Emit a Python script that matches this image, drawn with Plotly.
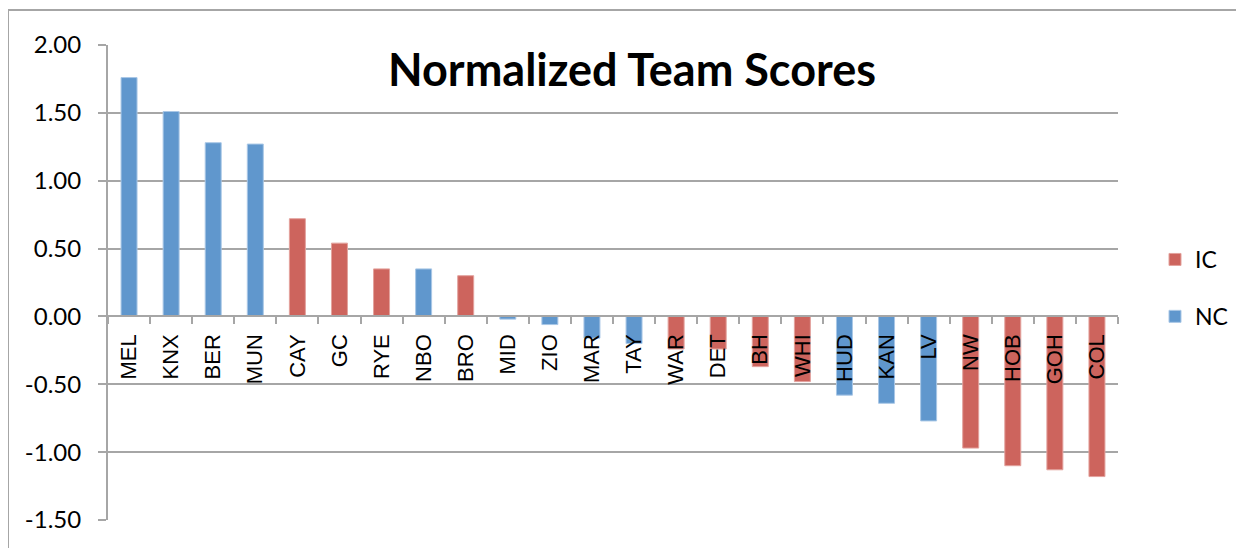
import plotly.graph_objects as go

teams = ["MEL", "KNX", "BER", "MUN", "CAY", "GC", "RYE", "NBO", "BRO", "MID", "ZIO", "MAR",
         "TAY", "WAR", "DET", "BH", "WHI", "HUD", "KAN", "LV", "NW", "HOB", "GOH", "COL"]
scores = [1.76, 1.51, 1.28, 1.27, 0.72, 0.54, 0.35, 0.35, 0.30, -0.02, -0.06, -0.16,
          -0.20, -0.24, -0.24, -0.37, -0.48, -0.58, -0.64, -0.77, -0.97, -1.10, -1.13, -1.18]
conference = ["NC", "NC", "NC", "NC", "IC", "IC", "IC", "NC", "IC", "NC", "NC", "NC",
              "NC", "IC", "IC", "IC", "IC", "NC", "NC", "NC", "IC", "IC", "IC", "IC"]
y_ticks = [2.0, 1.5, 1.0, 0.5, 0.0, -0.5, -1.0, -1.5]
y_tick_labels = ["2.00", "1.50", "1.00", "0.50", "0.00", "-0.50", "-1.00", "-1.50"]

ic_vals = [s if c == "IC" else None for s, c in zip(scores, conference)]
nc_vals = [s if c == "NC" else None for s, c in zip(scores, conference)]

RED = "#CD645D"
BLUE = "#6097CD"
GRID = "#A6A6A6"

fig = go.Figure()
fig.add_trace(go.Bar(x=teams, y=ic_vals, name="IC", legendgroup="IC",
                     marker=dict(color=RED, line=dict(color="#E3A29D", width=1)), width=0.38))
fig.add_trace(go.Bar(x=teams, y=nc_vals, name="NC", legendgroup="NC",
                     marker=dict(color=BLUE, line=dict(color="#A9C7E6", width=1)), width=0.38))

ymin, ymax = -1.5, 2.0
OFF = 8  # browser body margin
W, H = 1244, 548
L, T = 108 - OFF, 45 - OFF
R = W - (1118 - OFF)
B = H - (520 - OFF)
pw, ph = W - L - R, H - T - B

def px(xp):
    return (xp - OFF - L) / pw

def py(yp):
    return (H - B - (yp - OFF)) / ph

fig.update_layout(
    width=W, height=H,
    margin=dict(l=L, r=R, t=T, b=B, autoexpand=False),
    paper_bgcolor="white", plot_bgcolor="white",
    barmode="overlay",
    title=dict(text="<b>Normalized Team Scores</b>", x=px(632), xref="paper", xanchor="center",
               y=1 - (70 - OFF) / H, yref="container", yanchor="middle",
               font=dict(family="Lato", size=45, color="black")),
    legend=dict(x=px(1155), y=py(238), xanchor="left", yanchor="top",
                font=dict(family="Lato", size=23, color="black"),
                traceorder="grouped", tracegroupgap=24, bgcolor="rgba(0,0,0,0)"),
    xaxis=dict(type="category", anchor="free", position=(0 - ymin) / (ymax - ymin),
               showline=True, linecolor=GRID, linewidth=2, showgrid=False,
               ticks="outside", tickson="boundaries", ticklen=7, tickcolor=GRID, tickwidth=2,
               tickangle=-90, ticklabelstandoff=8, layer="above traces",
               tickfont=dict(family="Liberation Sans", size=22, color="black"),
               range=[-0.5, len(teams) - 0.5]),
    yaxis=dict(range=[ymin, ymax], tickvals=y_ticks, ticktext=y_tick_labels,
               showgrid=True, gridcolor=GRID, gridwidth=2, zeroline=False,
               showline=True, linecolor=GRID, linewidth=2,
               ticks="outside", ticklen=8, tickcolor=GRID, tickwidth=2, ticklabelstandoff=12,
               tickfont=dict(family="Lato", size=24, color="black")),
    shapes=[
        dict(type="line", xref="paper", yref="paper", x0=px(8), x1=px(1244 + 40), y0=py(10), y1=py(10),
             line=dict(color=GRID, width=2)),
        dict(type="line", xref="paper", yref="paper", x0=px(8), x1=px(8), y0=py(10), y1=py(548 + 40),
             line=dict(color=GRID, width=2)),
    ],
)

fig.write_html("out.html")
